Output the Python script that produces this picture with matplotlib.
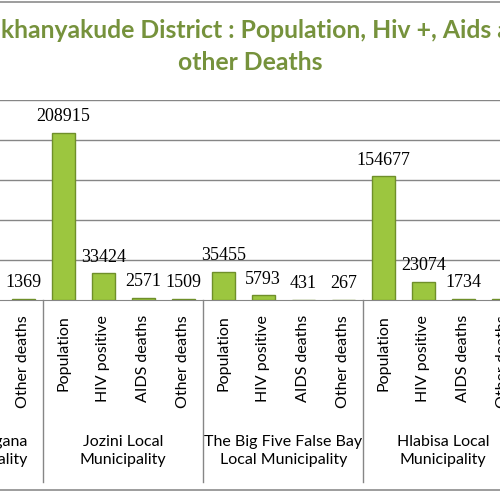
import numpy as np
import matplotlib
matplotlib.use("Agg")
import matplotlib.pyplot as plt
from matplotlib.lines import Line2D

# data (only the part of the chart that is visible in the crop)
municipalities = ["Umhlabuyalingana\nLocal Municipality",
                  "Jozini Local\nMunicipality",
                  "The Big Five False Bay\nLocal Municipality",
                  "Hlabisa Local\nMunicipality"]
measures = ["Population", "HIV positive", "AIDS deaths", "Other deaths"]
umhlabuyalingana = [np.nan, np.nan, 2174, 1369]
jozini = [208915, 33424, 2571, 1509]
big_five = [35455, 5793, 431, 267]
hlabisa = [154677, 23074, 1734, 1326]

values = umhlabuyalingana + jozini + big_five + hlabisa
labels = measures * len(municipalities)
x = np.arange(len(values))

title_col = "#76923C"
grid_col = "#868686"

fig = plt.figure(figsize=(5.0, 4.92), dpi=100)
ax = fig.add_axes([0, 192 / 492, 1, 200 / 492])

ax.bar(x, values, width=0.57, color="#9cc63f", edgecolor="#6f8f2a", linewidth=1.0, zorder=3)

for xi, v in zip(x, values):
    if np.isnan(v):
        continue
    ax.annotate(f"{int(v)}", (xi, v), xytext=(0, 11.5), textcoords="offset points",
                ha="center", va="center", fontsize=13, family="Liberation Serif")

ax.set_xlim(4 - 63.3 / 40, 4 + (500 - 63.3) / 40)
ax.set_ylim(0, 250000)
ax.set_yticks(np.arange(50000, 250001, 50000))
ax.grid(axis="y", color=grid_col, linewidth=1.0, zorder=0)
ax.tick_params(left=False, labelleft=False, bottom=False, labelbottom=False)
for s in ["left", "right", "top"]:
    ax.spines[s].set_visible(False)
ax.spines["bottom"].set_color(grid_col)

trans = ax.get_xaxis_transform()
for xi, lab in zip(x, labels):
    ax.text(xi, -0.075, lab, rotation=90, ha="center", va="top", fontsize=11.5,
            family="Lato", transform=trans, clip_on=False)

for g, name in enumerate(municipalities):
    ax.text(4 * g + 1.5, -0.755, name, ha="center", va="center", fontsize=11.5,
            family="Lato", linespacing=1.35, transform=trans, clip_on=False)
    ax.plot([4 * g - 0.5, 4 * g - 0.5], [0, -0.91], color=grid_col, linewidth=1.0,
            transform=trans, clip_on=False)
ax.plot([15.5, 15.5], [0, -0.91], color=grid_col, linewidth=1.0, transform=trans, clip_on=False)

fig.text(0.5, 1 - 19 / 492, "Umkhanyakude District : Population, Hiv +, Aids and\nother Deaths",
         ha="center", va="top", fontsize=17.8, fontweight="bold", family="Lato",
         color=title_col, linespacing=1.5)

# chart area border (top and bottom visible in the crop)
fig.add_artist(Line2D([0, 1], [1 - 1.5 / 492, 1 - 1.5 / 492], color="#8c8c8c", linewidth=1.2))
fig.add_artist(Line2D([0, 1], [2 / 492, 2 / 492], color="#8c8c8c", linewidth=1.2))

fig.savefig("out.png", dpi=100)
